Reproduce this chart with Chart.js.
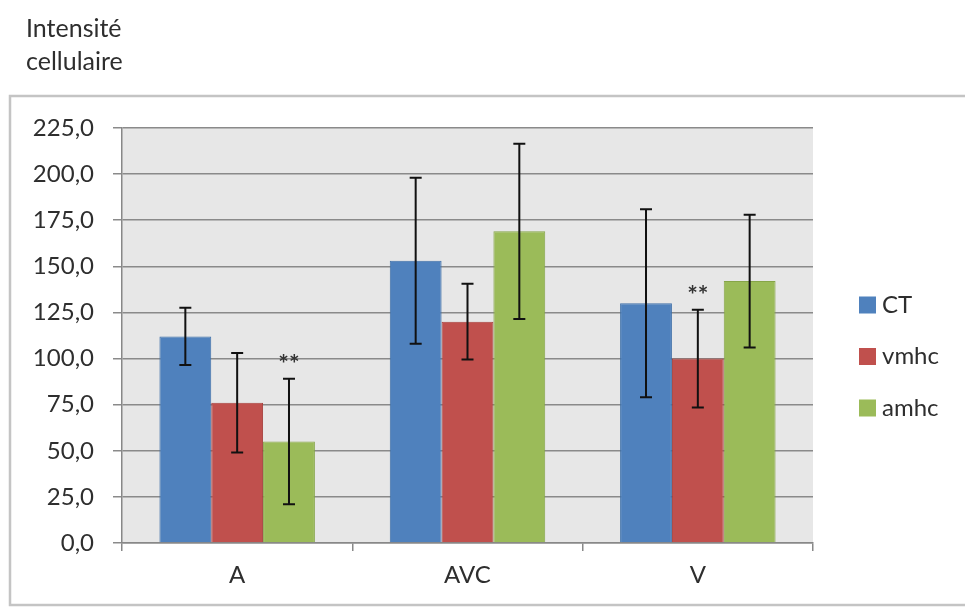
<!DOCTYPE html>
<html><head><meta charset="utf-8">
<script src="https://cdn.jsdelivr.net/npm/chart.js@4.4.1/dist/chart.umd.min.js"></script>
<style>html,body{margin:0;padding:0;background:#fff;}#wrap{width:965px;height:607px;position:relative;}</style>
</head><body><div id="wrap"><canvas id="c" width="965" height="607"></canvas></div>
<script>
const categories = ["A", "AVC", "V"];
const seriesNames = ["CT", "vmhc", "amhc"];
const ctValues = [112, 153, 130];
const vmhcValues = [76, 120, 100];
const amhcValues = [55, 169, 142];
const ctErrors = [15.5, 45, 51];
const vmhcErrors = [27, 20.5, 26.5];
const amhcErrors = [34, 47.5, 36];
// significance marks: [seriesIndex, categoryIndex]
const starMarks = [[2, 0], [1, 2]];
const yTicks = [0, 25, 50, 75, 100, 125, 150, 175, 200, 225];
const titleLines = ["Intensité", "cellulaire"];

const colors = ["#4F81BD", "#C0504D", "#9BBB59"];
const borders = ["#3E6FA8", "#A8403D", "#86A548"];
const values = [ctValues, vmhcValues, amhcValues];
const errors = [ctErrors, vmhcErrors, amhcErrors];
const FONT = "Lato, 'Open Sans', sans-serif";
const TXT = '#2e2e2e';

const decor = {
  id: 'decor',
  beforeDraw(chart) {
    const ctx = chart.ctx, a = chart.chartArea;
    ctx.save();
    ctx.fillStyle = '#fff';
    ctx.fillRect(0, 0, chart.width, chart.height);
    ctx.strokeStyle = '#c4c4c4';
    ctx.lineWidth = 2.5;
    ctx.strokeRect(10, 96, 970, 509);
    ctx.fillStyle = '#e7e7e7';
    ctx.fillRect(a.left, a.top, a.right - a.left, a.bottom - a.top);
    ctx.fillStyle = TXT;
    ctx.font = "25px " + FONT;
    ctx.textBaseline = 'middle';
    ctx.textAlign = 'left';
    ctx.fillText(titleLines[0], 26, 29);
    ctx.fillText(titleLines[1], 26, 62);
    ctx.restore();
  },
  afterDatasetsDraw(chart) {
    const ctx = chart.ctx, y = chart.scales.y;
    ctx.save();
    ctx.strokeStyle = '#111';
    ctx.lineWidth = 2;
    values.forEach((vals, di) => {
      const meta = chart.getDatasetMeta(di);
      vals.forEach((v, i) => {
        const x = meta.data[i].x;
        const yt = y.getPixelForValue(v + errors[di][i]);
        const yb = y.getPixelForValue(v - errors[di][i]);
        ctx.beginPath();
        ctx.moveTo(x, yt); ctx.lineTo(x, yb);
        ctx.moveTo(x - 6, yt); ctx.lineTo(x + 6, yt);
        ctx.moveTo(x - 6, yb); ctx.lineTo(x + 6, yb);
        ctx.stroke();
      });
    });
    ctx.fillStyle = '#333';
    ctx.font = "bold 25px " + FONT;
    ctx.textAlign = 'center';
    ctx.textBaseline = 'middle';
    starMarks.forEach(([di, i]) => {
      const meta = chart.getDatasetMeta(di);
      const x = meta.data[i].x;
      const yt = y.getPixelForValue(values[di][i] + errors[di][i]);
      ctx.fillText("**", x, yt - 14);
    });
    // legend
    ctx.font = "24px " + FONT;
    ctx.textAlign = 'left';
    seriesNames.forEach((n, k) => {
      const cy = 305 + k * 51.5;
      ctx.fillStyle = colors[k];
      ctx.fillRect(859, cy - 8.5, 17, 17);
      ctx.fillStyle = TXT;
      ctx.fillText(n, 882, cy);
    });
    ctx.restore();
  }
};

new Chart(document.getElementById('c'), {
  type: 'bar',
  data: {
    labels: categories,
    datasets: seriesNames.map((n, k) => ({
      label: n,
      data: values[k],
      backgroundColor: colors[k],
      borderColor: borders[k],
      borderWidth: 1,
      categoryPercentage: 0.675,
      barPercentage: 1.0
    }))
  },
  options: {
    responsive: false,
    animation: false,
    devicePixelRatio: 1,
    layout: { padding: { left: 0, top: 128, right: 152, bottom: 0 } },
    plugins: { legend: { display: false }, tooltip: { enabled: false } },
    scales: {
      x: {
        afterFit(s) { s.height = 64; },
        grid: { display: true, drawOnChartArea: false, color: '#888', tickLength: 8, lineWidth: 1.5 },
        border: { color: '#888', width: 1.5 },
        ticks: { color: TXT, font: { family: FONT, size: 24 }, padding: 10 }
      },
      y: {
        min: 0, max: 225,
        afterFit(s) { s.width = 122; },
        afterBuildTicks(s) { s.ticks = yTicks.map(v => ({ value: v })); },
        grid: { color: '#8a8a8a', lineWidth: 1.5, tickLength: 9 },
        border: { color: '#888', width: 1.5 },
        ticks: {
          color: TXT, font: { family: FONT, size: 24 }, padding: 19,
          callback: v => v.toFixed(1).replace('.', ',')
        }
      }
    }
  },
  plugins: [decor]
});
</script></body></html>
